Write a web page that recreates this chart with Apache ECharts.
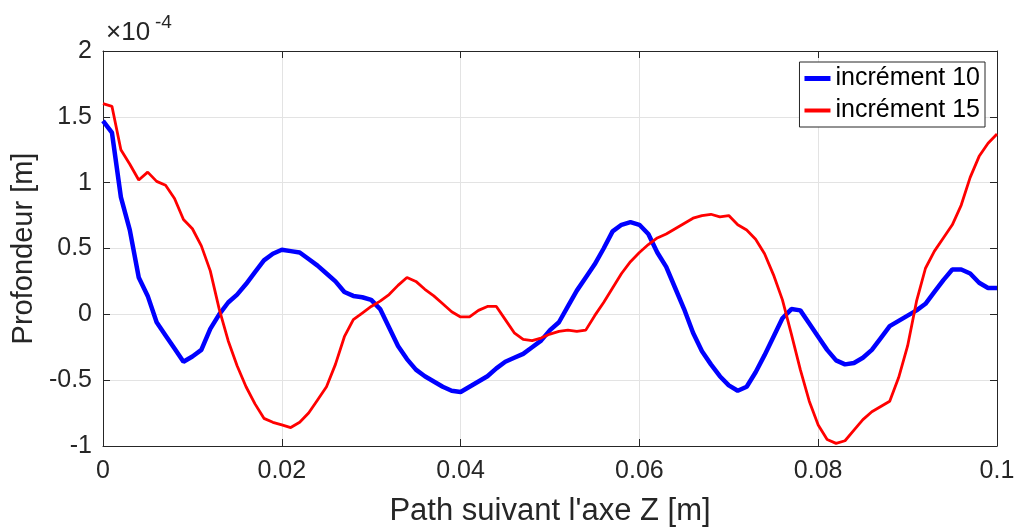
<!DOCTYPE html>
<html>
<head>
<meta charset="utf-8">
<script src="https://cdn.jsdelivr.net/npm/echarts@6/dist/echarts.min.js"></script>
<style>html,body{margin:0;padding:0;background:#fff}#c{width:1016px;height:527px}</style>
</head>
<body>
<div id="c"></div>
<script>
// Path along Z axis [m]
var pathZ = [
0.000,0.001,0.002,0.003,0.004,0.005,0.006,0.007,0.008,0.009,
0.010,0.011,0.012,0.013,0.014,0.015,0.016,0.017,0.018,0.019,
0.020,0.021,0.022,0.023,0.024,0.025,0.026,0.027,0.028,0.029,
0.030,0.031,0.032,0.033,0.034,0.035,0.036,0.037,0.038,0.039,
0.040,0.041,0.042,0.043,0.044,0.045,0.046,0.047,0.048,0.049,
0.050,0.051,0.052,0.053,0.054,0.055,0.056,0.057,0.058,0.059,
0.060,0.061,0.062,0.063,0.064,0.065,0.066,0.067,0.068,0.069,
0.070,0.071,0.072,0.073,0.074,0.075,0.076,0.077,0.078,0.079,
0.080,0.081,0.082,0.083,0.084,0.085,0.086,0.087,0.088,0.089,
0.090,0.091,0.092,0.093,0.094,0.095,0.096,0.097,0.098,0.099,
0.100];
// Depth values, in units of 1e-4 m
var increment10 = [
1.47,1.38,0.89,0.64,0.28,0.14,-0.06,-0.16,-0.26,-0.36,
-0.32,-0.27,-0.11,0.00,0.09,0.15,0.23,0.32,0.41,0.46,
0.49,0.48,0.47,0.42,0.37,0.31,0.25,0.17,0.14,0.13,
0.11,0.04,-0.10,-0.24,-0.34,-0.42,-0.47,-0.51,-0.55,-0.58,
-0.59,-0.55,-0.51,-0.47,-0.41,-0.36,-0.33,-0.30,-0.25,-0.20,
-0.12,-0.06,0.06,0.18,0.28,0.38,0.50,0.63,0.68,0.70,
0.68,0.61,0.47,0.36,0.20,0.04,-0.14,-0.28,-0.38,-0.47,
-0.54,-0.58,-0.55,-0.44,-0.31,-0.17,-0.03,0.04,0.03,-0.07,
-0.17,-0.27,-0.35,-0.38,-0.37,-0.33,-0.27,-0.18,-0.09,-0.05,
-0.01,0.03,0.08,0.17,0.26,0.34,0.34,0.31,0.24,0.20,
0.20];
var increment15 = [
1.60,1.58,1.25,1.14,1.02,1.08,1.01,0.98,0.88,0.72,
0.65,0.52,0.33,0.04,-0.20,-0.39,-0.55,-0.68,-0.79,-0.82,
-0.84,-0.86,-0.82,-0.75,-0.65,-0.55,-0.38,-0.17,-0.04,0.01,
0.06,0.10,0.15,0.22,0.28,0.25,0.19,0.14,0.08,0.02,
-0.02,-0.02,0.03,0.06,0.06,-0.04,-0.14,-0.19,-0.20,-0.18,
-0.15,-0.13,-0.12,-0.13,-0.12,-0.01,0.09,0.20,0.31,0.40,
0.47,0.53,0.58,0.61,0.65,0.69,0.73,0.75,0.76,0.74,
0.75,0.68,0.64,0.57,0.46,0.30,0.11,-0.15,-0.42,-0.66,
-0.84,-0.95,-0.98,-0.96,-0.88,-0.80,-0.74,-0.70,-0.66,-0.48,
-0.24,0.10,0.35,0.48,0.58,0.68,0.83,1.04,1.20,1.30,
1.37];
var seriesNames = ['incrément 10','incrément 15'];
var xTitle = "Path suivant l'axe Z [m]";
var yTitle = 'Profondeur [m]';

function pairs(ys){ return pathZ.map(function(x,i){ return [x, ys[i]]; }); }

var FONT = 'Liberation Sans, Arial, sans-serif';
var AX = '#262626';
var chart = echarts.init(document.getElementById('c'), null, {renderer:'canvas'});
chart.setOption({
  animation:false,
  backgroundColor:'#ffffff',
  grid:{left:103, right:19, top:51, bottom:81, containLabel:false, outerBoundsMode:'none'},
  xAxis:[{
    type:'value', min:0, max:0.1, interval:0.02, position:'bottom',
    axisLine:{show:true, onZero:false, lineStyle:{color:AX, width:1}},
    axisTick:{show:true, inside:true, length:7, lineStyle:{color:AX}},
    axisLabel:{color:AX, fontFamily:FONT, fontSize:25, margin:13},
    splitLine:{show:true, lineStyle:{color:'#e3e3e3', width:1}},
    name:xTitle, nameLocation:'middle', nameGap:50,
    nameTextStyle:{color:AX, fontFamily:FONT, fontSize:31}
  },{
    type:'value', min:0, max:0.1, interval:0.02, position:'top',
    axisLine:{show:true, onZero:false, lineStyle:{color:AX, width:1}},
    axisTick:{show:true, inside:true, length:7, lineStyle:{color:AX}},
    axisLabel:{show:false}, splitLine:{show:false}
  }],
  yAxis:[{
    type:'value', min:-1, max:2, interval:0.5, position:'left',
    axisLine:{show:true, onZero:false, lineStyle:{color:AX, width:1}},
    axisTick:{show:true, inside:true, length:7, lineStyle:{color:AX}},
    axisLabel:{color:AX, fontFamily:FONT, fontSize:25, margin:11},
    splitLine:{show:true, lineStyle:{color:'#e3e3e3', width:1}},
    name:yTitle, nameLocation:'middle', nameGap:61, nameRotate:90,
    nameTextStyle:{color:AX, fontFamily:FONT, fontSize:29}
  },{
    type:'value', min:-1, max:2, interval:0.5, position:'right',
    axisLine:{show:true, onZero:false, lineStyle:{color:AX, width:1}},
    axisTick:{show:true, inside:true, length:7, lineStyle:{color:AX}},
    axisLabel:{show:false}, splitLine:{show:false}
  }],
  legend:{
    right:31, top:62, orient:'vertical',
    backgroundColor:'#ffffff', borderColor:AX, borderWidth:1,
    padding:[4,5,4,5], itemGap:7, itemWidth:26, itemHeight:14,
    textStyle:{color:'#000', fontFamily:FONT, fontSize:25},
    data:[{name:seriesNames[0], icon:'path://M0,0H26V5H0Z', itemStyle:{color:'#0000ff'}},
          {name:seriesNames[1], icon:'path://M0,0H26V4H0Z', itemStyle:{color:'#ff0000'}}]
  },
  graphic:[
    {type:'text', left:106, top:20, style:{text:'×10', fontFamily:FONT, fontSize:26, fill:AX}},
    {type:'text', left:155, top:13, style:{text:'-4', fontFamily:FONT, fontSize:19, fill:AX}}
  ],
  series:[
    {name:seriesNames[0], type:'line', data:pairs(increment10), showSymbol:false, symbol:'none',
     lineStyle:{color:'#0000ff', width:4.5}, itemStyle:{color:'#0000ff'}, z:3},
    {name:seriesNames[1], type:'line', data:pairs(increment15), showSymbol:false, symbol:'none',
     lineStyle:{color:'#ff0000', width:2.8}, itemStyle:{color:'#ff0000'}, z:4}
  ]
});
</script>
</body>
</html>
